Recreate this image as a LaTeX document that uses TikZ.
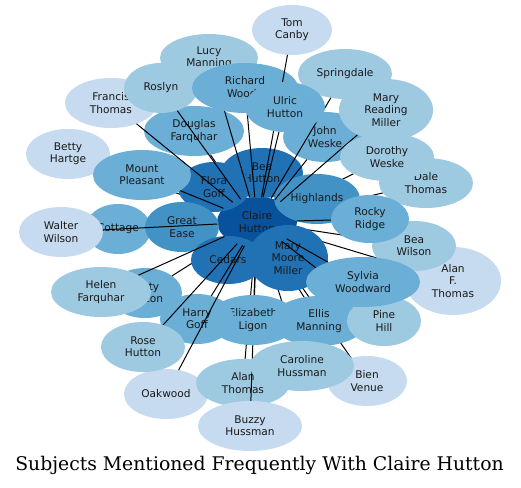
\documentclass[tikz,border=0pt]{standalone}
\usepackage{fontspec}
\usetikzlibrary{shapes.geometric}
\newfontfamily\dvs{DejaVu Sans}
\newfontfamily\dvserif{DejaVu Serif}
\definecolor{cA}{HTML}{C6DBEF}
\definecolor{cB}{HTML}{9ECAE1}
\definecolor{cC}{HTML}{6BAED6}
\definecolor{cD}{HTML}{4292C6}
\definecolor{cE}{HTML}{2171B5}
\definecolor{cF}{HTML}{08519C}
\tikzset{
  geo/.style={ellipse, inner sep=0pt, outer sep=0pt, draw=none},
  blob/.style={ellipse, inner sep=0pt, outer sep=0pt, draw=none, align=center,
    font=\dvs\fontsize{10.6}{12.3}\selectfont, text=black!90},
  edge/.style={draw=black, line width=1pt},
}
\makeatletter
\newcommand\defnode[7]{%
  \node[geo, minimum width=#4*2pt, minimum height=#5*2pt] (#1) at (#2,#3) {};%
  \expandafter\def\csname shw@#1\endcsname{\node[blob, fill=#6, minimum width=#4*2pt, minimum height=#5*2pt] (#1-v) at (#2,#3) {#7};}%
}
\newcommand\shw[1]{\csname shw@#1\endcsname}
\makeatother
\newcommand\ed[1]{\draw[edge] (claire) -- (#1);}
\begin{document}
\begin{tikzpicture}[x=1pt,y=-1pt]
\useasboundingbox[fill=white] (0,0) rectangle (521,487);
% geometry of all nodes
\defnode{claire}{257}{222}{40}{25}{cF}{Claire\\Hutton}
\defnode{bea}{262}{173}{41}{25}{cE}{Bea\\Hutton}
\defnode{flora}{214}{187}{36}{25}{cE}{Flora\\Goff}
\defnode{cedars}{228}{260}{37}{24}{cE}{Cedars}
\defnode{mmm}{288}{258}{40}{33}{cE}{Mary\\Moore\\Miller}
\defnode{highl}{317}{199}{43}{25}{cD}{Highlands}
\defnode{great}{182}{227}{37}{25}{cD}{Great\\Ease}
\defnode{mount}{142}{175}{49}{25}{cC}{Mount\\Pleasant}
\defnode{doug}{194}{131}{50}{25}{cC}{Douglas\\Farquhar}
\defnode{rich}{245}{88}{53}{25}{cC}{Richard\\Woody}
\defnode{ulric}{285}{107}{40}{25}{cC}{Ulric\\Hutton}
\defnode{john}{325}{137}{42}{25}{cC}{John\\Weske}
\defnode{rocky}{370}{219}{39}{24}{cC}{Rocky\\Ridge}
\defnode{sylvia}{363}{282}{57}{25}{cC}{Sylvia\\Woodward}
\defnode{ellis}{319}{321}{48}{25}{cC}{Ellis\\Manning}
\defnode{eliz}{253}{320}{45}{25}{cC}{Elizabeth\\Ligon}
\defnode{harry}{197}{319}{37}{25}{cC}{Harry\\Goff}
\defnode{cottage}{118}{229}{33}{25}{cC}{Cottage}
\defnode{bettyh}{145}{293}{37}{25}{cC}{Betty\\Hutton}
\defnode{lucy}{209}{58}{49}{24}{cB}{Lucy\\Manning}
\defnode{roslyn}{161}{88}{37}{25}{cB}{Roslyn}
\defnode{spring}{345}{74}{47}{25}{cB}{Springdale}
\defnode{mrm}{386}{110}{47}{31}{cB}{Mary\\Reading\\Miller}
\defnode{dorothy}{387}{157}{47}{24}{cB}{Dorothy\\Weske}
\defnode{dale}{426}{183}{47}{25}{cB}{Dale\\Thomas}
\defnode{beaw}{414}{246}{42}{25}{cB}{Bea\\Wilson}
\defnode{helen}{101}{292}{50}{25}{cB}{Helen\\Farquhar}
\defnode{rose}{143}{347}{42}{25}{cB}{Rose\\Hutton}
\defnode{pine}{384}{321}{37}{25}{cB}{Pine\\Hill}
\defnode{caroline}{302}{366}{52}{25}{cB}{Caroline\\Hussman}
\defnode{alan}{243}{383}{47}{24}{cB}{Alan\\Thomas}
\defnode{tom}{292}{30}{40}{25}{cA}{Tom\\Canby}
\defnode{francis}{111}{103}{46}{25}{cA}{Francis\\Thomas}
\defnode{bettyhar}{68}{154}{42}{25}{cA}{Betty\\Hartge}
\defnode{walter}{61}{232}{42}{25}{cA}{Walter\\Wilson}
\defnode{alanf}{453}{281}{48}{34}{cA}{Alan\\F.\\Thomas}
\defnode{bien}{367}{381}{40}{25}{cA}{Bien\\Venue}
\defnode{oak}{166}{394}{42}{25}{cA}{Oakwood}
\defnode{buzzy}{250}{426}{52}{25}{cA}{Buzzy\\Hussman}
% drawing order
\shw{claire}
\ed{flora}\ed{bea}\ed{doug}\ed{great}\ed{cottage}\ed{cedars}\ed{mmm}\ed{highl}
\ed{caroline}\ed{ellis}\ed{bien}\ed{eliz}\ed{alan}\ed{bettyh}\ed{beaw}\ed{alanf}
\ed{dorothy}\ed{dale}\ed{bettyhar}
\shw{bea}\shw{flora}
\shw{francis}\shw{doug}\shw{lucy}\shw{tom}\shw{spring}\shw{john}\shw{dale}\shw{alanf}\shw{bettyhar}
\ed{lucy}\ed{rich}\ed{ulric}\ed{roslyn}
\shw{mount}\ed{mount}\ed{francis}
\shw{roslyn}
\shw{rich}
\ed{tom}
\shw{highl}
\ed{john}\ed{spring}\ed{mrm}\ed{rocky}
\shw{ulric}
\shw{mrm}
\shw{dorothy}
\shw{cottage}\shw{great}\ed{walter}\shw{walter}
\shw{beaw}
\shw{rocky}
\shw{bettyh}
\shw{oak}
\shw{alan}
\ed{buzzy}
\shw{buzzy}
\shw{bien}
\shw{eliz}
\shw{harry}
\shw{ellis}
\shw{caroline}
\shw{cedars}
\shw{mmm}
\ed{harry}\ed{rose}\ed{oak}\ed{helen}
\shw{helen}
\shw{rose}
\ed{sylvia}\ed{pine}
\shw{pine}
\shw{sylvia}
\node[font=\dvserif\fontsize{18.8}{22}\selectfont, inner sep=0pt] (title) at (259.5,465.5) {Subjects Mentioned Frequently With Claire Hutton};
\end{tikzpicture}
\end{document}
